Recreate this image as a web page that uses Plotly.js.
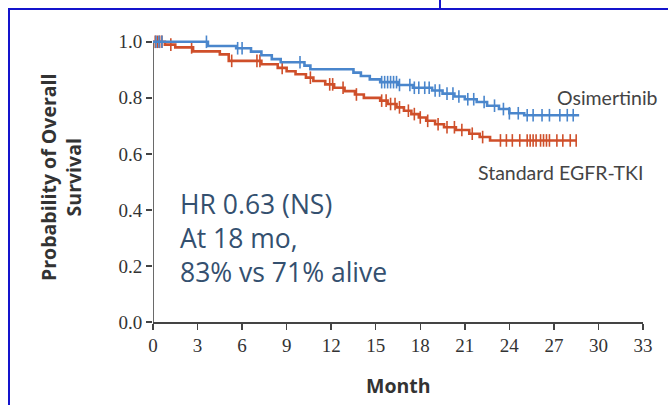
<!DOCTYPE html>
<html>
<head>
<meta charset="utf-8">
<script src="https://cdn.plot.ly/plotly-3.0.1.min.js"></script>
<style>
  html, body { margin: 0; padding: 0; background: #ffffff; }
  #wrap { position: relative; width: 668px; height: 405px; overflow: hidden; }
  #chart { position: absolute; left: 0; top: 0; width: 668px; height: 405px; }
  .frame { position: absolute; background: #1414cc; }
</style>
</head>
<body>
<div id="wrap">
  <div id="chart"></div>
  <div class="frame" style="left:8px; top:8px; width:660px; height:2px;"></div>
  <div class="frame" style="left:8px; top:8px; width:2px; height:397px;"></div>
  <div class="frame" style="left:439px; top:0px; width:2px; height:9px;"></div>
</div>
<script>
// Osimertinib Kaplan-Meier steps (month, survival)
const osiTime = [0, 3.7, 5.6, 6.6, 7.3, 8.0, 8.6, 10.2, 10.6, 13.5, 14.0, 14.6, 15.3, 16.5, 17.5, 18.8, 19.5, 20.3, 21.0, 21.8, 22.5, 23.3, 24.0, 25.0, 28.7];
const osiSurv = [1.0, 0.985, 0.977, 0.965, 0.952, 0.938, 0.927, 0.915, 0.902, 0.89, 0.878, 0.866, 0.856, 0.846, 0.836, 0.826, 0.815, 0.805, 0.795, 0.785, 0.772, 0.760, 0.745, 0.738, 0.738];
const osiCensor = [0.2, 0.4, 0.6, 3.6, 5.7, 6.0, 9.9, 15.4, 15.6, 15.8, 16.0, 16.2, 16.4, 16.6, 17.3, 17.6, 17.9, 18.3, 18.6, 19.0, 19.3, 19.8, 20.2, 20.6, 21.2, 21.6, 22.3, 23.0, 23.6, 24.0, 24.6, 25.2, 25.6, 26.2, 26.7, 27.4, 27.9, 28.3];

// Standard EGFR-TKI Kaplan-Meier steps (month, survival)
const stdTime = [0, 0.8, 1.5, 2.7, 4.5, 5.1, 7.3, 8.4, 9.0, 9.6, 10.3, 10.8, 11.6, 12.2, 12.9, 13.6, 14.2, 15.3, 15.8, 16.4, 16.9, 17.4, 17.9, 18.4, 19.0, 19.6, 20.4, 21.3, 22.0, 22.7, 28.5];
const stdSurv = [1.0, 0.99, 0.98, 0.966, 0.955, 0.932, 0.92, 0.907, 0.895, 0.884, 0.872, 0.86, 0.848, 0.836, 0.824, 0.812, 0.80, 0.79, 0.778, 0.766, 0.754, 0.742, 0.73, 0.718, 0.706, 0.695, 0.685, 0.672, 0.66, 0.648, 0.648];
const stdCensor = [0.15, 0.3, 0.45, 0.6, 1.2, 2.6, 5.3, 7.0, 7.2, 8.7, 10.6, 11.9, 12.1, 12.8, 13.7, 15.4, 15.7, 16.0, 16.3, 16.6, 17.2, 17.6, 18.0, 18.5, 19.2, 19.8, 20.3, 20.8, 21.5, 22.2, 23.4, 23.8, 24.2, 24.7, 25.2, 25.4, 25.6, 25.8, 26.1, 26.3, 26.5, 26.7, 27.2, 27.6, 28.1, 28.5];

const xTicks = [0, 3, 6, 9, 12, 15, 18, 21, 24, 27, 30, 33];
const yTicks = [0, 0.2, 0.4, 0.6, 0.8, 1.0];
const yTickText = ["0.0", "0.2", "0.4", "0.6", "0.8", "1.0"];

const osiColor = "#4a86cc";
const stdColor = "#cf4f2a";

function stepAt(times, surv, t) {
  let v = surv[0];
  for (let i = 0; i < times.length; i++) { if (times[i] <= t) v = surv[i]; }
  return v;
}

const traces = [
  { x: stdTime, y: stdSurv, type: "scatter", mode: "lines", line: { shape: "hv", color: stdColor, width: 2.6 }, hoverinfo: "skip" },
  { x: stdCensor, y: stdCensor.map(t => stepAt(stdTime, stdSurv, t)), type: "scatter", mode: "markers", cliponaxis: false,
    marker: { symbol: "line-ns", size: 9, line: { color: stdColor, width: 1.6 } }, hoverinfo: "skip" },
  { x: osiTime, y: osiSurv, type: "scatter", mode: "lines", line: { shape: "hv", color: osiColor, width: 2.6 }, hoverinfo: "skip" },
  { x: osiCensor, y: osiCensor.map(t => stepAt(osiTime, osiSurv, t)), type: "scatter", mode: "markers", cliponaxis: false,
    marker: { symbol: "line-ns", size: 9, line: { color: osiColor, width: 1.6 } }, hoverinfo: "skip" }
];

const tickFont = { family: "Liberation Serif, serif", size: 19, color: "#333333" };
const noteFont = { family: "Open Sans, sans-serif", size: 26.5, color: "#34506f" };
const labFont = { family: "Lato, sans-serif", size: 19.5, color: "#444444" };

const layout = {
  width: 668, height: 405,
  margin: { l: 153, r: 25, t: 39, b: 83 },
  paper_bgcolor: "#ffffff", plot_bgcolor: "#ffffff",
  showlegend: false,
  xaxis: {
    range: [0, 33], tickvals: xTicks, ticktext: xTicks.map(String),
    showgrid: false, zeroline: false, showline: true, linecolor: "#444444", linewidth: 1.6,
    ticks: "outside", ticklen: 6, tickwidth: 1.5, tickcolor: "#444444", tickfont: tickFont
  },
  yaxis: {
    range: [0, 1.01], tickvals: yTicks, ticktext: yTickText,
    showgrid: false, zeroline: false, showline: false,
    ticks: "outside", ticklen: 6, tickwidth: 1.5, tickcolor: "#444444", tickfont: tickFont
  },
  shapes: [
    { type: "line", xref: "x", yref: "y", x0: 0, x1: 0, y0: 0, y1: 1.0, layer: "below", line: { color: "#444444", width: 1.6 } }
  ],
  annotations: [
    { xref: "paper", yref: "paper", x: -0.188, y: 0.512, xanchor: "center", yanchor: "middle", textangle: -90, showarrow: false,
      text: "<b>Probability of Overall<br>Survival</b>", font: { family: "Open Sans, sans-serif", size: 19.5, color: "#333333" } },
    { xref: "paper", yref: "paper", x: 0.5, y: -0.223, xanchor: "center", yanchor: "middle", showarrow: false,
      text: "<b>Month</b>", font: { family: "Open Sans, sans-serif", size: 19.5, color: "#333333" } },
    { xref: "paper", yref: "paper", x: 0.051, y: 0.417, xanchor: "left", yanchor: "middle", showarrow: false, text: "HR 0.63 (NS)", font: noteFont },
    { xref: "paper", yref: "paper", x: 0.051, y: 0.297, xanchor: "left", yanchor: "middle", showarrow: false, text: "At 18 mo,", font: noteFont },
    { xref: "paper", yref: "paper", x: 0.051, y: 0.177, xanchor: "left", yanchor: "middle", showarrow: false, text: "83% vs 71% alive", font: noteFont },
    { xref: "paper", yref: "paper", x: 1.035, y: 0.795, xanchor: "right", yanchor: "middle", showarrow: false, text: "Osimertinib", font: labFont },
    { xref: "paper", yref: "paper", x: 1.004, y: 0.53, xanchor: "right", yanchor: "middle", showarrow: false, text: "Standard EGFR-TKI", font: labFont }
  ]
};

Plotly.newPlot("chart", traces, layout, { staticPlot: true, displayModeBar: false });
</script>
</body>
</html>
